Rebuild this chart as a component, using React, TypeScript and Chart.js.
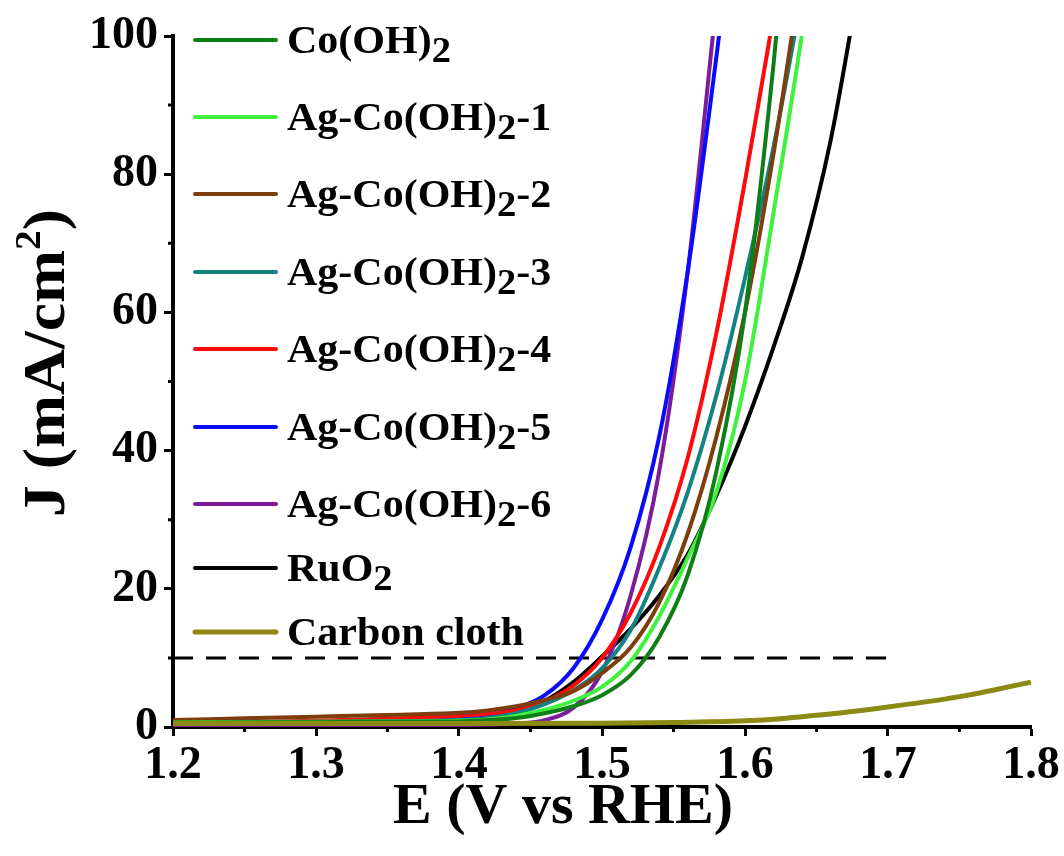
import React, { useEffect, useRef } from "react";
import { Chart, registerables } from "chart.js";

Chart.register(...registerables);

// ---------- data ----------
const potentialGrid = [1.2, 1.25, 1.3, 1.35, 1.4, 1.42, 1.44, 1.46, 1.48, 1.5, 1.52, 1.54, 1.56, 1.58, 1.6, 1.62, 1.64, 1.66, 1.68];

const jCoOH2 = [0.6, 0.65, 0.7, 0.75, 0.8, 1.0, 1.3, 2.0, 3.0, 4.6, 7.5, 13, 22, 37, 60, 96, 140];
const jAg1 = [0.65, 0.7, 0.75, 0.8, 0.9, 1.1, 1.6, 2.5, 3.8, 5.8, 9.5, 16, 24.5, 34, 50, 74.5, 100.5, 130];
const jAg2 = [1.0, 1.25, 1.5, 1.75, 2.05, 2.4, 3.0, 3.9, 5.2, 7.8, 11.5, 18, 28, 42, 60, 83, 110];
const jAg3 = [0.65, 0.7, 0.75, 0.85, 1.0, 1.3, 2.0, 3.3, 5.3, 8.5, 14, 23, 34, 48, 65, 84, 106];
const jAg4 = [0.6, 0.7, 0.9, 1.2, 1.6, 1.9, 2.4, 3.7, 6.0, 10, 16.5, 26, 39, 57, 79, 103];
const jAg5 = [0.55, 0.65, 0.75, 0.9, 1.3, 1.8, 2.7, 4.6, 8.5, 15.5, 26, 42, 66, 97, 130];
const jAg6 = [0.2, 0.2, 0.2, 0.25, 0.3, 0.35, 0.5, 1.0, 2.8, 8.0, 19, 37, 66, 105];
const jRuO2 = [0.6, 0.65, 0.7, 0.85, 1.1, 1.5, 2.2, 3.8, 6.5, 10.2, 14.2, 19, 25, 33.5, 43.5, 55, 68, 85, 108];

const carbonE = [1.2, 1.3, 1.4, 1.5, 1.55, 1.6, 1.625, 1.65, 1.675, 1.7, 1.725, 1.75, 1.775, 1.8];
const carbonJ = [0.5, 0.5, 0.5, 0.55, 0.65, 0.9, 1.2, 1.7, 2.25, 2.9, 3.6, 4.4, 5.4, 6.5];

const refLineE = [1.2, 1.7];
const refLineJ = [10, 10];

const seriesLabels = [
  "Co(OH)₂",
  "Ag-Co(OH)₂-1",
  "Ag-Co(OH)₂-2",
  "Ag-Co(OH)₂-3",
  "Ag-Co(OH)₂-4",
  "Ag-Co(OH)₂-5",
  "Ag-Co(OH)₂-6",
  "RuO₂",
  "Carbon cloth",
];
const seriesColors = ["#0e7f16", "#3ef23e", "#7d3d0c", "#148282", "#ff0a0a", "#0a0aff", "#7a1c9c", "#000000", "#8c8a12"];

const xTickValues = [1.2, 1.3, 1.4, 1.5, 1.6, 1.7, 1.8];
const xMinorTicks = [1.25, 1.35, 1.45, 1.55, 1.65, 1.75];
const yTickValues = [0, 20, 40, 60, 80, 100];
const yMinorTicks = [10, 30, 50, 70, 90];

const xTitle = "E (V vs RHE)";
const yTitleParts = ["J (mA/cm", "2", ")"];

const FONT = '"Liberation Serif", "Times New Roman", serif';

function zip(xs: number[], ys: number[]) {
  return ys.map((y, i) => ({ x: xs[i], y }));
}

function drawRich(ctx: CanvasRenderingContext2D, text: string, x: number, y: number, size: number) {
  let cx = x;
  let run = "";
  const flush = () => {
    if (!run) return;
    ctx.font = `bold ${size}px ${FONT}`;
    ctx.fillText(run, cx, y);
    cx += ctx.measureText(run).width;
    run = "";
  };
  for (const ch of text) {
    if (ch === "₂") {
      flush();
      ctx.font = `bold ${size * 0.92}px ${FONT}`;
      ctx.fillText("2", cx, y + size * 0.22);
      cx += ctx.measureText("2").width;
    } else {
      run += ch;
    }
  }
  flush();
}

const legendPlugin = {
  id: "richLegend",
  afterDraw(chart: any, _args: any, opts: any) {
    const ctx = chart.ctx as CanvasRenderingContext2D;
    ctx.save();
    let row = 0;
    chart.data.datasets.forEach((ds: any) => {
      if (ds.legendHidden) return;
      const y = opts.rowY[row++];
      ctx.strokeStyle = ds.borderColor;
      ctx.lineWidth = ds.borderWidth;
      ctx.lineCap = "round";
      ctx.beginPath();
      ctx.moveTo(opts.x0, y);
      ctx.lineTo(opts.x1, y);
      ctx.stroke();
      ctx.fillStyle = "#000";
      ctx.textBaseline = "alphabetic";
      ctx.textAlign = "left";
      ctx.save();
      ctx.translate(opts.textX, y + opts.size * 0.32);
      ctx.scale(opts.stretch, 1);
      drawRich(ctx, ds.label, 0, 0, opts.size);
      ctx.restore();
    });
    ctx.restore();
  },
};

const minorTickPlugin = {
  id: "minorTicks",
  afterDraw(chart: any, _args: any, opts: any) {
    const ctx = chart.ctx as CanvasRenderingContext2D;
    const xs = chart.scales.x;
    const ys = chart.scales.y;
    const area = chart.chartArea;
    ctx.save();
    ctx.strokeStyle = "#000";
    ctx.lineWidth = opts.width;
    ctx.beginPath();
    xMinorTicks.forEach((v) => {
      const px = xs.getPixelForValue(v);
      ctx.moveTo(px, area.bottom);
      ctx.lineTo(px, area.bottom + opts.length);
    });
    yMinorTicks.forEach((v) => {
      const py = ys.getPixelForValue(v);
      ctx.moveTo(area.left, py);
      ctx.lineTo(area.left - opts.length, py);
    });
    ctx.stroke();
    ctx.restore();
  },
};

const axisTitlePlugin = {
  id: "axisTitles",
  afterDraw(chart: any, _args: any, opts: any) {
    const ctx = chart.ctx as CanvasRenderingContext2D;
    ctx.save();
    ctx.fillStyle = "#000";
    ctx.textBaseline = "alphabetic";
    // x title
    ctx.font = `bold ${opts.xSize}px ${FONT}`;
    ctx.textAlign = "center";
    ctx.fillText(xTitle, opts.xCenter, opts.xBaseline);
    // y title (rotated)
    ctx.translate(opts.yBaseline, opts.yCenter);
    ctx.rotate(-Math.PI / 2);
    ctx.scale(opts.yStretch, 1);
    ctx.textAlign = "left";
    const main = `bold ${opts.ySize}px ${FONT}`;
    const sup = `bold ${opts.ySize * 0.62}px ${FONT}`;
    ctx.font = main;
    const w0 = ctx.measureText(yTitleParts[0]).width;
    const w2 = ctx.measureText(yTitleParts[2]).width;
    ctx.font = sup;
    const w1 = ctx.measureText(yTitleParts[1]).width;
    let cx = -(w0 + w1 + w2) / 2;
    ctx.font = main;
    ctx.fillText(yTitleParts[0], cx, 0);
    cx += w0;
    ctx.font = sup;
    ctx.fillText(yTitleParts[1], cx, -opts.ySize * 0.4);
    cx += w1;
    ctx.font = main;
    ctx.fillText(yTitleParts[2], cx, 0);
    ctx.restore();
  },
};

export default function App() {
  const canvasRef = useRef<HTMLCanvasElement | null>(null);

  useEffect(() => {
    const canvas = canvasRef.current;
    if (!canvas) return;
    const seriesJ = [jCoOH2, jAg1, jAg2, jAg3, jAg4, jAg5, jAg6, jRuO2];
    const datasets: any[] = seriesJ.map((js, i) => ({
      label: seriesLabels[i],
      data: zip(potentialGrid, js),
      borderColor: seriesColors[i],
      backgroundColor: seriesColors[i],
      borderWidth: 4,
      pointRadius: 0,
      cubicInterpolationMode: "monotone",
      fill: false,
    }));
    datasets.push({
      label: seriesLabels[8],
      data: zip(carbonE, carbonJ),
      borderColor: seriesColors[8],
      backgroundColor: seriesColors[8],
      borderWidth: 5,
      pointRadius: 0,
      cubicInterpolationMode: "monotone",
      fill: false,
      order: -1,
    });
    datasets.push({
      label: "10 mA/cm²",
      data: zip(refLineE, refLineJ),
      borderColor: "#000",
      borderWidth: 3,
      borderDash: [20, 13],
      pointRadius: 0,
      fill: false,
      legendHidden: true,
      order: 1,
    });

    const tickFont = { family: FONT, size: 46, weight: "bold" as const };

    const chart = new Chart(canvas, {
      type: "line",
      data: { datasets },
      plugins: [legendPlugin, minorTickPlugin, axisTitlePlugin],
      options: {
        responsive: false,
        animation: false,
        devicePixelRatio: 1,
        layout: { padding: { left: 0, top: 36, right: 33, bottom: 0 } },
        plugins: {
          legend: { display: false },
          tooltip: { enabled: false },
          richLegend: { rowY: [40, 117, 194, 272, 349, 427, 504, 568, 632], x0: 195, x1: 276, textX: 287, size: 40, stretch: 1.05 },
          minorTicks: { length: 5, width: 3 },
          axisTitles: { xSize: 58, xCenter: 563, xBaseline: 823, ySize: 59, yStretch: 1.08, yCenter: 363, yBaseline: 64 },
        } as any,
        scales: {
          x: {
            type: "linear",
            min: 1.2,
            max: 1.8,
            afterBuildTicks: (s: any) => {
              s.ticks = xTickValues.map((v) => ({ value: v }));
            },
            afterFit: (s: any) => {
              s.height = 129;
            },
            ticks: {
              autoSkip: false,
              maxRotation: 0,
              color: "#000",
              font: tickFont,
              padding: 3,
              callback: (v: any) => Number(v).toFixed(1),
            },
            grid: { display: true, drawOnChartArea: false, drawTicks: true, tickLength: 9, tickWidth: 3, tickColor: "#000" },
            border: { display: true, color: "#000", width: 4 },
          },
          y: {
            type: "linear",
            min: 0,
            max: 100,
            afterBuildTicks: (s: any) => {
              s.ticks = yTickValues.map((v) => ({ value: v }));
            },
            afterFit: (s: any) => {
              s.width = 173;
            },
            ticks: {
              color: "#000",
              font: tickFont,
              padding: 6,
              callback: (v: any) => String(v),
            },
            grid: { display: true, drawOnChartArea: false, drawTicks: true, tickLength: 9, tickWidth: 3, tickColor: "#000" },
            border: { display: true, color: "#000", width: 4 },
          },
        },
      } as any,
    });
    return () => chart.destroy();
  }, []);

  return (
    <div style={{ position: "absolute", left: 0, top: 0, width: 1064, height: 856, background: "#fff" }}>
      <canvas ref={canvasRef} width={1064} height={856} style={{ display: "block" }} />
    </div>
  );
}
